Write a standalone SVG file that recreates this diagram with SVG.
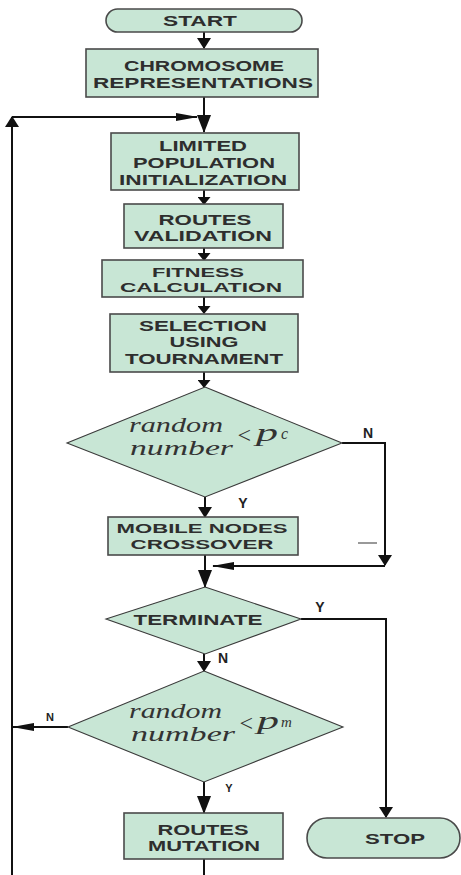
<svg xmlns="http://www.w3.org/2000/svg" width="461" height="875" viewBox="0 0 461 875">
<style>
.bx{fill:#c8e6d5;stroke:#4a4a4a;stroke-width:1.6}
.dm{fill:#c8e6d5;stroke:#3a3a3a;stroke-width:1.1}
.t{font-family:"Liberation Sans",Arial,sans-serif;font-weight:bold;font-size:15px;fill:#2e2e2e;text-anchor:middle}
.s{font-size:13.5px}
.lb{font-family:"Liberation Sans",Arial,sans-serif;font-weight:bold;fill:#222;text-anchor:middle}
.m{font-family:"Liberation Serif","Times New Roman",serif;font-style:italic;fill:#333}
.c{fill:none;stroke:#111;stroke-width:2}
</style>
<defs>
<marker id="a1" markerUnits="userSpaceOnUse" markerWidth="8" markerHeight="13" refX="7" refY="6.5" orient="auto" viewBox="0 0 8 13"><path d="M0,0 L8,6.5 L0,13 Z" fill="#111"/></marker>
<marker id="a2" markerUnits="userSpaceOnUse" markerWidth="18" markerHeight="14" refX="17" refY="7" orient="auto" viewBox="0 0 18 14"><path d="M0,0 L18,7 L0,14 Z" fill="#111"/></marker>
<marker id="a3" markerUnits="userSpaceOnUse" markerWidth="22" markerHeight="8" refX="21" refY="4" orient="auto" viewBox="0 0 22 8"><path d="M0,0 L22,4 L0,8 Z" fill="#111"/></marker>
<marker id="a4" markerUnits="userSpaceOnUse" markerWidth="11" markerHeight="14" refX="10" refY="7" orient="auto" viewBox="0 0 11 14"><path d="M0,0 L11,7 L0,14 Z" fill="#111"/></marker>
</defs>
<g id="connectors">
<path class="c" d="M204,32 V48" marker-end="url(#a4)"/>
<path class="c" d="M204,97 V132" marker-end="url(#a2)"/>
<path class="c" d="M12,875 V117" marker-end="url(#a4)"/>
<path class="c" d="M12,117 H197" marker-end="url(#a3)"/>
<path class="c" d="M204,190 V204" marker-end="url(#a1)"/>
<path class="c" d="M204,248 V260" marker-end="url(#a1)"/>
<path class="c" d="M204,297 V313" marker-end="url(#a1)"/>
<path class="c" d="M204,372 V387" marker-end="url(#a1)"/>
<path class="c" d="M205,497 V517" marker-end="url(#a4)"/>
<path class="c" d="M342,443 H385 V565" marker-end="url(#a4)"/>
<path class="c" d="M385,566 H213" marker-end="url(#a3)"/>
<path class="c" d="M205,555 V587" marker-end="url(#a2)"/>
<path d="M358,543 H377" stroke="#555" stroke-width="1.2"/>
<path class="c" d="M301,619 H386 V817" marker-end="url(#a4)"/>
<path class="c" d="M204,654 V671" marker-end="url(#a4)"/>
<path class="c" d="M68,727 H13" marker-end="url(#a3)"/>
<path class="c" d="M204,782 V813" marker-end="url(#a2)"/>
<path class="c" d="M204,859 V875"/>
</g>
<g id="start">
<rect class="bx" x="106" y="9" width="196" height="23" rx="11.5"/>
<text class="t" x="200" y="25.5" textLength="74" lengthAdjust="spacingAndGlyphs">START</text>
</g>
<g id="chromosome">
<rect class="bx" x="86" y="49" width="232" height="48"/>
<text class="t" x="204" y="70.5" textLength="160" lengthAdjust="spacingAndGlyphs">CHROMOSOME</text>
<text class="t" x="203" y="87.5" textLength="220" lengthAdjust="spacingAndGlyphs">REPRESENTATIONS</text>
</g>
<g id="limited">
<rect class="bx" x="111" y="133" width="188" height="57"/>
<text class="t" x="203" y="150.5" textLength="88" lengthAdjust="spacingAndGlyphs">LIMITED</text>
<text class="t" x="204" y="167.5" textLength="142" lengthAdjust="spacingAndGlyphs">POPULATION</text>
<text class="t" x="203" y="184.5" textLength="168" lengthAdjust="spacingAndGlyphs">INITIALIZATION</text>
</g>
<g id="validation">
<rect class="bx" x="124" y="204" width="159" height="44"/>
<text class="t" x="205" y="224.5" textLength="93" lengthAdjust="spacingAndGlyphs">ROUTES</text>
<text class="t" x="203" y="240.5" textLength="138" lengthAdjust="spacingAndGlyphs">VALIDATION</text>
</g>
<g id="fitness">
<rect class="bx" x="102" y="260" width="201" height="37"/>
<text class="t s" x="198" y="277" textLength="92" lengthAdjust="spacingAndGlyphs">FITNESS</text>
<text class="t s" x="201" y="292" textLength="162" lengthAdjust="spacingAndGlyphs">CALCULATION</text>
</g>
<g id="selection">
<rect class="bx" x="110" y="314" width="188" height="58"/>
<text class="t" x="203" y="330.5" textLength="128" lengthAdjust="spacingAndGlyphs">SELECTION</text>
<text class="t" x="204" y="346.5" textLength="69" lengthAdjust="spacingAndGlyphs">USING</text>
<text class="t" x="204" y="363.5" textLength="158" lengthAdjust="spacingAndGlyphs">TOURNAMENT</text>
</g>
<g id="decision-crossover">
<polygon class="dm" points="205,387 342,443 205,497 67,443"/>
<text class="m" x="129" y="432" font-size="22" textLength="94" lengthAdjust="spacingAndGlyphs">random</text>
<text class="m" x="130" y="455" font-size="22" textLength="103" lengthAdjust="spacingAndGlyphs">number</text>
<text class="m" x="236" y="443" font-size="24" font-style="normal">&lt;</text>
<text class="m" x="256" y="441" font-size="26" textLength="22" lengthAdjust="spacingAndGlyphs">p</text>
<text class="m" x="281" y="439" font-size="16">c</text>
<text class="lb" x="368" y="438" font-size="14">N</text>
<text class="lb" x="243" y="508" font-size="14">Y</text>
</g>
<g id="crossover">
<rect class="bx" x="108" y="517" width="190" height="38"/>
<text class="t s" x="202" y="533" textLength="171" lengthAdjust="spacingAndGlyphs">MOBILE NODES</text>
<text class="t s" x="202" y="548.5" textLength="143" lengthAdjust="spacingAndGlyphs">CROSSOVER</text>
</g>
<g id="terminate">
<polygon class="dm" points="205,587 301,619 205,654 106,619"/>
<text class="t" x="198" y="624.5" textLength="129" lengthAdjust="spacingAndGlyphs">TERMINATE</text>
<text class="lb" x="320" y="612" font-size="14">Y</text>
<text class="lb" x="223" y="663" font-size="14">N</text>
</g>
<g id="decision-mutation">
<polygon class="dm" points="204,671 343,727 204,782 68,727"/>
<text class="m" x="129" y="718" font-size="22" textLength="93" lengthAdjust="spacingAndGlyphs">random</text>
<text class="m" x="131" y="741" font-size="22" textLength="104" lengthAdjust="spacingAndGlyphs">number</text>
<text class="m" x="238" y="731" font-size="24" font-style="normal">&lt;</text>
<text class="m" x="257" y="729" font-size="26" textLength="22" lengthAdjust="spacingAndGlyphs">p</text>
<text class="m" x="281" y="727" font-size="15">m</text>
<text class="lb" x="50" y="721" font-size="11">N</text>
<text class="lb" x="229" y="792" font-size="11">Y</text>
</g>
<g id="mutation">
<rect class="bx" x="124" y="813" width="159" height="46"/>
<text class="t" x="203" y="834.5" textLength="91" lengthAdjust="spacingAndGlyphs">ROUTES</text>
<text class="t" x="204" y="850.5" textLength="112" lengthAdjust="spacingAndGlyphs">MUTATION</text>
</g>
<g id="stop">
<rect class="bx" x="307" y="818" width="153" height="40" rx="20"/>
<text class="t" x="395" y="844" textLength="60" lengthAdjust="spacingAndGlyphs">STOP</text>
</g>
</svg>
